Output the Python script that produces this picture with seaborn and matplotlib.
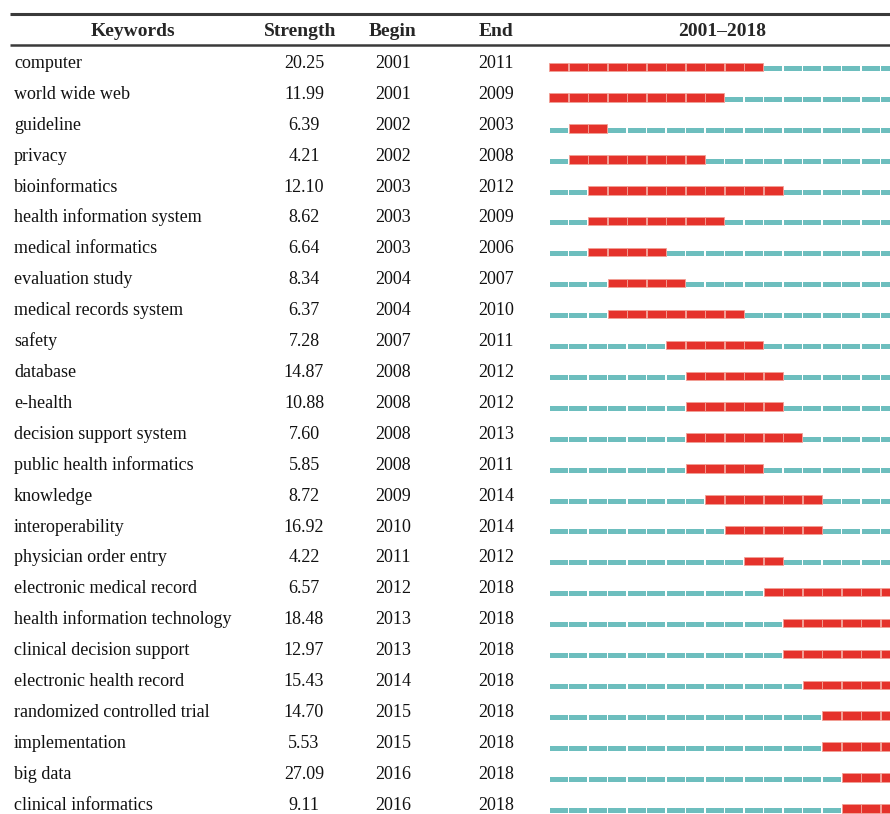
import pandas as pd
import seaborn as sns
import matplotlib.pyplot as plt

keywords = [
    "computer", "world wide web", "guideline", "privacy", "bioinformatics",
    "health information system", "medical informatics", "evaluation study",
    "medical records system", "safety", "database", "e-health",
    "decision support system", "public health informatics", "knowledge",
    "interoperability", "physician order entry", "electronic medical record",
    "health information technology", "clinical decision support",
    "electronic health record", "randomized controlled trial",
    "implementation", "big data", "clinical informatics",
]
strength = [20.25, 11.99, 6.39, 4.21, 12.10, 8.62, 6.64, 8.34, 6.37, 7.28,
            14.87, 10.88, 7.60, 5.85, 8.72, 16.92, 4.22, 6.57, 18.48, 12.97,
            15.43, 14.70, 5.53, 27.09, 9.11]
begin = [2001, 2001, 2002, 2002, 2003, 2003, 2003, 2004, 2004, 2007, 2008,
         2008, 2008, 2008, 2009, 2010, 2011, 2012, 2013, 2013, 2014, 2015,
         2015, 2016, 2016]
end = [2011, 2009, 2003, 2008, 2012, 2009, 2006, 2007, 2010, 2011, 2012,
       2012, 2013, 2011, 2014, 2014, 2012, 2018, 2018, 2018, 2018, 2018,
       2018, 2018, 2018]
first_year, last_year = 2001, 2018

RED = "#e5322b"
CYAN = "#6dbebe"

sns.set_theme(style="white")
plt.rcParams["font.family"] = ["Liberation Serif", "DejaVu Serif"]

# one segment per keyword per year
rows = []
for i, (b, e) in enumerate(zip(begin, end)):
    for yr in range(first_year, last_year + 1):
        rows.append({"row": i, "year": yr, "burst": b <= yr <= e})
seg = pd.DataFrame(rows)

W, H = 890, 814
fig = plt.figure(figsize=(W / 100, H / 100), dpi=100)

# row units: baseline of row 0 sits at pixel 68, rows ~30.9 px apart
px0, step = 68, 30.9
ylim = ((H - px0) / step, -px0 / step)

ax = fig.add_axes([0, 0, 1, 1])
ax.set_xlim(0, W)
ax.set_ylim(*ylim)
ax.axis("off")

# bars axes, x in years
bx_left = 549
bx = fig.add_axes([bx_left / W, 0, (W - bx_left) / W, 1])
bx.set_xlim(first_year, first_year + (W - bx_left) / 19.5)
bx.set_ylim(*ylim)
bx.axis("off")

gap = 0.1
norm = seg[~seg["burst"]]
bx.barh(norm["row"] + 0.015, 1 - gap, left=norm["year"] + gap / 2,
        height=0.16, color=CYAN, linewidth=0)
hot = seg[seg["burst"]]
bx.barh(hot["row"] - 0.04, 1 - gap / 2, left=hot["year"] + gap / 4,
        height=0.27, color=RED, edgecolor="#f2a096", linewidth=0.6)

# header
hy = -1.04
hdr = dict(fontsize=14, fontweight="bold", va="baseline", ha="center")
ax.text(133, hy, "Keywords", **hdr)
ax.text(300, hy, "Strength", **hdr)
ax.text(393, hy, "Begin", **hdr)
ax.text(496, hy, "End", **hdr)
ax.text(722, hy, f"{first_year}\u2013{last_year}", **hdr)
ax.plot([10, W], [-1.75, -1.75], color="#3a3a3a", lw=2.2, solid_capstyle="butt")
ax.plot([10, W], [-0.745, -0.745], color="#3a3a3a", lw=1.8, solid_capstyle="butt")

body = dict(fontsize=13, va="baseline", color="#111111")
for i, kw in enumerate(keywords):
    ax.text(14, i, kw, ha="left", **body)
    ax.text(304, i, f"{strength[i]:.2f}", ha="center", **body)
    ax.text(393, i, str(begin[i]), ha="center", **body)
    ax.text(496, i, str(end[i]), ha="center", **body)

fig.savefig("out.png", dpi=100, facecolor="white")
